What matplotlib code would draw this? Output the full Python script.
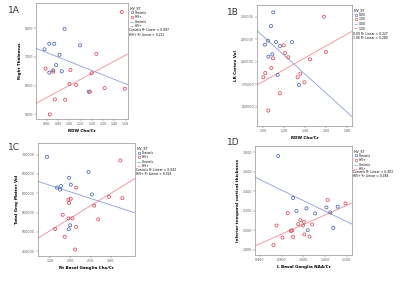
import numpy as np
import matplotlib.pyplot as plt

# 1A - Right Thalamus vs RDW Cho/Cr
a_ctl_x = [0.779, 0.821, 0.865, 0.956, 1.094, 0.912, 0.882, 0.821, 0.856, 0.932, 1.171]
a_ctl_y = [7265, 7458, 7458, 7977, 7401, 7073, 6712, 6452, 6531, 6497, 5785]
a_hiv_x = [1.465, 1.238, 0.788, 0.856, 1.009, 1.197, 1.000, 1.059, 0.871, 0.962, 0.826, 1.312, 1.491, 1.182]
a_hiv_y = [8565, 7107, 6588, 6486, 6542, 6429, 6056, 6023, 5514, 5503, 4994, 5910, 5887, 5785]
# fit lines as drawn in the figure: y at left and right axis edge
a_ctl_fit = [7299, 6023]
a_hiv_fit = [5379, 7107]

# 1B - LR Cortex Vol vs RDW Cho/Cr
b_ctl_x = [1.098, 1.076, 1.048, 1.019, 1.124, 1.162, 1.276, 1.089, 1.051, 1.140, 1.343]
b_ctl_y = [254815, 239630, 223333, 218889, 221852, 217407, 221852, 208148, 205556, 185185, 174074]
b_hiv_x = [1.581, 1.600, 1.197, 1.210, 1.241, 1.095, 1.079, 1.022, 1.003, 1.448, 1.356, 1.330, 1.394, 1.162, 1.051]
b_hiv_y = [250000, 210741, 218148, 209630, 204815, 203704, 192963, 187407, 182593, 202593, 186667,
           182593, 177037, 164815, 145556]
b_ctl_fit = [234444, 138889]
b_hiv_fit = [174074, 233704]

# 1C - Total Gray Matter Vol vs Rt Basal Ganglia Cho/Cr
c_ctl_x = [1.417, 2.450, 1.967, 2.008, 1.767, 1.667, 1.742, 2.533, 1.992, 1.958]
c_ctl_y = [694068, 655085, 639831, 622034, 618644, 614407, 609322, 596610, 516949, 506780]
c_hiv_x = [3.242, 2.142, 1.950, 2.008, 1.967, 2.958, 3.292, 2.592, 1.808, 1.950, 2.050, 2.692,
           1.617, 2.142, 1.858, 2.117]
c_hiv_y = [684746, 614407, 583051, 585593, 574576, 590678, 587288, 567797, 544068, 534746, 534746,
           532203, 507627, 512712, 487288, 454237]
c_ctl_fit = [630508, 549153]
c_hiv_fit = [483898, 638136]

# 1D - Inferior temporal cortical thickness vs L Basal Ganglia NAA/Cr
d_ctl_x = [0.942, 0.976, 0.984, 1.007, 1.027, 1.053, 1.062, 1.079, 1.010, 1.069]
d_ctl_y = [2.759, 2.329, 2.195, 2.223, 2.171, 2.233, 2.181, 2.240, 1.999, 2.023]
d_hiv_x = [1.056, 1.097, 0.964, 0.993, 1.001, 0.988, 0.999, 0.938, 1.020, 0.974, 0.971, 1.002,
           1.014, 0.976, 0.952, 0.931]
d_hiv_y = [2.309, 2.274, 2.175, 2.102, 2.085, 2.061, 2.047, 2.047, 2.058, 1.996, 1.992, 1.955,
           1.934, 1.931, 1.924, 1.848]
d_ctl_fit = [2.542, 2.061]
d_hiv_fit = [1.838, 2.278]

blue = '#3d55a8'
red = '#d9364a'
blue_line = '#8c9fd6'
red_line = '#f08c98'

fig = plt.figure(figsize=(4, 2.95), dpi=100)


def panel(rect, tag, tag_xy, cx, cy, hx, hy, cfit, hfit, xlim, ylim, xticks, yticks, xfmt, yfmt,
          xlabel, ylabel, groups):
    ax = fig.add_axes(rect)
    ax.scatter(cx, cy, s=5, facecolors='none', edgecolors=blue, linewidths=0.5, zorder=3)
    ax.scatter(hx, hy, s=5, facecolors='none', edgecolors=red, linewidths=0.5, zorder=3)
    ax.plot(xlim, cfit, color=blue_line, lw=0.6)
    ax.plot(xlim, hfit, color=red_line, lw=0.6)
    r2 = [np.corrcoef(cx, cy)[0, 1] ** 2, np.corrcoef(hx, hy)[0, 1] ** 2]
    ax.set_xlim(xlim)
    ax.set_ylim(ylim)
    ax.set_xticks(xticks)
    ax.set_yticks(yticks)
    ax.set_xticklabels([xfmt.format(v) for v in xticks])
    ax.set_yticklabels([yfmt.format(v) for v in yticks])
    ax.tick_params(labelsize=2.3, length=1.2, width=0.3, pad=1, colors='#555555')
    for s in ax.spines.values():
        s.set_linewidth(0.4)
        s.set_color('#777777')
    ax.set_xlabel(xlabel, fontsize=3, fontweight='bold', labelpad=2)
    ax.set_ylabel(ylabel, fontsize=3, fontweight='bold', labelpad=2)
    fig.text(tag_xy[0], tag_xy[1], tag, fontsize=6.5, color='#333333')

    h1 = plt.Line2D([], [], marker='o', ls='none', mfc='none', mec=blue, ms=1.8, mew=0.4)
    h2 = plt.Line2D([], [], marker='o', ls='none', mfc='none', mec=red, ms=1.8, mew=0.4)
    h3 = plt.Line2D([], [], color=blue_line, lw=0.5)
    h4 = plt.Line2D([], [], color=red_line, lw=0.5)
    leg = ax.legend([h1, h2, h3, h4], groups + groups, title='HIV_ST', fontsize=2.2,
                    title_fontsize=2.3, frameon=False, loc='upper left',
                    bbox_to_anchor=(1.0, 0.99), handlelength=1.2, labelspacing=0.2,
                    borderpad=0.1, handletextpad=0.4)
    leg._legend_box.align = 'left'
    ax.text(1.01, 0.78, '%s R\u00b2 Linear = %.3f' % (groups[0], r2[0]),
            transform=ax.transAxes, fontsize=2.2, va='top')
    ax.text(1.01, 0.745, '%s R\u00b2 Linear = %.3f' % (groups[1], r2[1]),
            transform=ax.transAxes, fontsize=2.2, va='top')
    return ax


panel([0.09, 0.597, 0.23, 0.393], '1A', (0.02, 0.955),
      a_ctl_x, a_ctl_y, a_hiv_x, a_hiv_y, a_ctl_fit, a_hiv_fit, (0.703, 1.52), (4836, 8881),
      [0.8, 0.9, 1.0, 1.1, 1.2, 1.3, 1.4, 1.5], [5000, 6000, 7000, 8000], '{:.2f}', '{:.0f}',
      'RDW Cho/Cr', 'Right Thalamus', ['Controls', 'HIV+'])

panel([0.6425, 0.573, 0.2375, 0.41], '1B', (0.567, 0.95),
      b_ctl_x, b_ctl_y, b_hiv_x, b_hiv_y, b_ctl_fit, b_hiv_fit, (0.943, 1.848), (128518, 262963),
      [1.0, 1.2, 1.4, 1.6, 1.8], [150000, 175000, 200000, 225000, 250000], '{:.2f}', '{:.0f}',
      'RDW Cho/Cr', 'LR Cortex Vol', ['0.00', '1.00'])

panel([0.095, 0.132, 0.2425, 0.383], '1C', (0.02, 0.49),
      c_ctl_x, c_ctl_y, c_hiv_x, c_hiv_y, c_ctl_fit, c_hiv_fit, (1.192, 3.608), (437288, 729661),
      [1.5, 2.0, 2.5, 3.0], [450000, 500000, 550000, 600000, 650000, 700000], '{:.2f}', '{:.0f}',
      'Rt Basal Ganglia Cho/Cr', 'Total Gray Matter Vol', ['Controls', 'HIV+'])

panel([0.6375, 0.1356, 0.2425, 0.3695], '1D', (0.567, 0.51),
      d_ctl_x, d_ctl_y, d_hiv_x, d_hiv_y, d_ctl_fit, d_hiv_fit, (0.8885, 1.112), (1.745, 2.862),
      [0.90, 0.95, 1.00, 1.05, 1.10], [1.8, 2.0, 2.2, 2.4, 2.6, 2.8], '{:.3f}', '{:.3f}',
      'L Basal Ganglia NAA/Cr', 'Inferior temporal cortical thickness', ['Controls', 'HIV+'])

fig.savefig('out.png', dpi=100)
